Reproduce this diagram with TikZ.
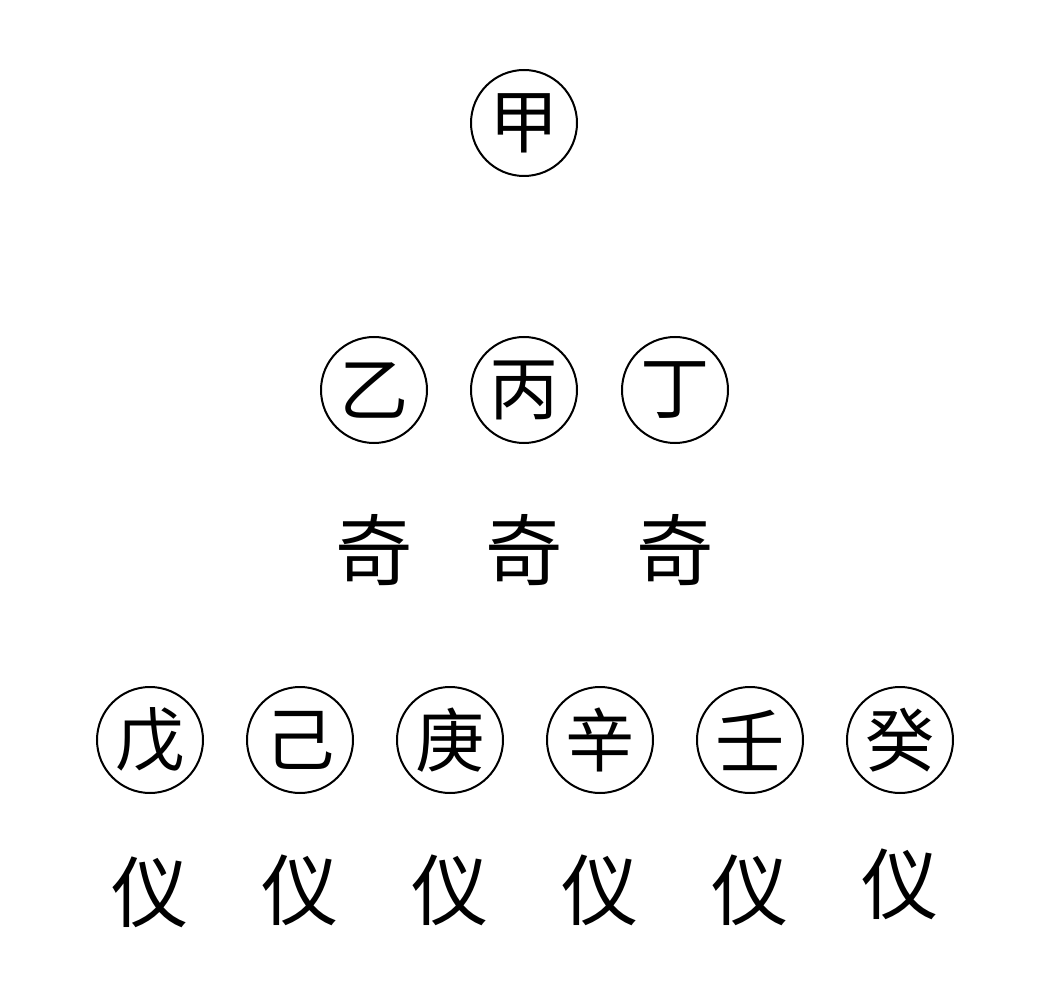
\documentclass[tikz,border=0pt]{standalone}
\usepackage{fontspec}
\newfontfamily\cjk{Noto Sans CJK SC}
\begin{document}
\begin{tikzpicture}[x=0.75pt,y=-0.75pt,
  stem/.style={circle,draw,line width=1.5pt,minimum size=106*0.75pt,inner sep=0pt,font=\cjk\fontsize{52}{52}\selectfont},
  lab/.style={inner sep=0pt,font=\cjk\fontsize{58}{58}\selectfont}]
\useasboundingbox (0,0) rectangle (1050,1005);
\node[stem] (jia) at (524,123) {甲};
\node[stem] (yi) at (374,390) {乙};
\node[stem] (bing) at (524,390) {丙};
\node[stem] (ding) at (675,390) {丁};
\node[lab] (q1) at (374,550) {奇};
\node[lab] (q2) at (524,550) {奇};
\node[lab] (q3) at (675,550) {奇};
\node[stem] (wu) at (150,740) {戊};
\node[stem] (ji) at (300,740) {己};
\node[stem] (geng) at (450,740) {庚};
\node[stem] (xin) at (600,740) {辛};
\node[stem] (ren) at (750,740) {壬};
\node[stem] (gui) at (900,740) {癸};
\node[lab] (y1) at (150,892) {仪};
\node[lab] (y2) at (300,890) {仪};
\node[lab] (y3) at (450,890) {仪};
\node[lab] (y4) at (600,890) {仪};
\node[lab] (y5) at (750,890) {仪};
\node[lab] (y6) at (900,884) {仪};
\end{tikzpicture}
\end{document}
